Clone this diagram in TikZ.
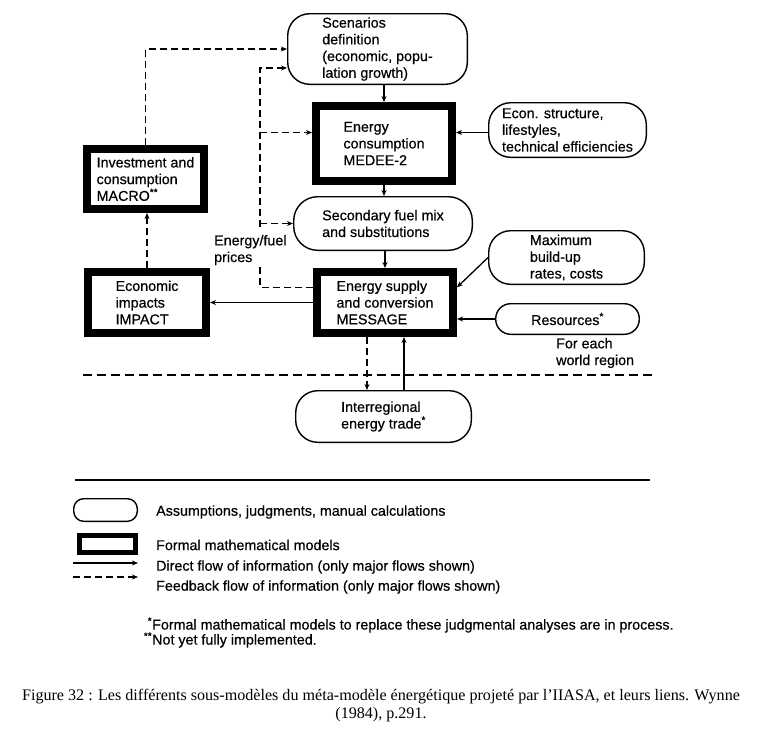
\documentclass[tikz,border=0pt]{standalone}
\usepackage{fontspec}
\setmainfont{Liberation Serif}
\newfontfamily\diagfont[FakeBold=0.5]{Liberation Sans}
\usetikzlibrary{arrows.meta,calc}
\newcommand\dfont{\diagfont\fontsize{14.3}{16.7}\selectfont}
\tikzset{
  ovbox/.style={draw, line width=1.4pt, rounded corners=#1, align=left, inner sep=0pt, font=\dfont},
  ovbox/.default=22pt,
  modbox/.style={draw, line width=8pt, align=left, inner sep=0pt, font=\dfont},
  flow/.style={line width=1.3pt, -{Stealth[length=6pt,width=5pt]}},
  fb/.style={flow, dash pattern=on 7pt off 4pt},
  dashl/.style={line width=1.3pt, dash pattern=on 7pt off 4pt},
  lbl/.style={font=\dfont, align=left, inner sep=0pt},
}
\begin{document}
\begin{tikzpicture}[x=1pt,y=-1pt]
\useasboundingbox (0,0) rectangle (762,729);
% boxes
\node[ovbox, minimum width=179.6pt, minimum height=70.6pt] (scen) at (377.5,49) {Scenarios\\definition\\(economic, popu-\\lation growth)};
\node[modbox, minimum width=136pt, minimum height=75pt] (medee) at (384,143.5) {Energy\\consumption\\MEDEE-2};
\node[modbox, minimum width=117pt, minimum height=60pt] (macro) at (145.5,179) {Investment and\\consumption\\MACRO\textsuperscript{**}};
\node[ovbox=24pt, minimum width=178.6pt, minimum height=53.6pt] (sec) at (383,223.5) {Secondary fuel mix\\and substitutions};
\node[modbox, minimum width=136pt, minimum height=61pt] (message) at (385,302.5) {Energy supply\\and conversion\\MESSAGE};
\node[modbox, minimum width=118pt, minimum height=61pt] (impact) at (147,302.5) {Economic\\impacts\\IMPACT};
\node[ovbox, minimum width=175.6pt, minimum height=51.6pt] (inter) at (383.5,416.5) {Interregional\\energy trade\textsuperscript{*}};
\node[ovbox, minimum width=157.6pt, minimum height=54.6pt] (econ) at (567.5,130) {Econ. structure,\\lifestyles,\\technical efficiencies};
\node[ovbox, minimum width=155.6pt, minimum height=53.6pt] (maxb) at (566.5,257.5) {Maximum\\build-up\\rates, costs};
\node[ovbox=15pt, minimum width=143.6pt, minimum height=30.6pt] (res) at (567.5,319) {Resources\textsuperscript{*}};
% labels
\node[lbl, anchor=west] (prices) at (214,250) {Energy/fuel\\prices};
\node[lbl, anchor=west] (region) at (556,353) {For each\\world region};
% solid connectors
\draw[flow] (medee.north |- scen.south) -- (medee.north);
\draw[flow] (medee.south) -- (medee.south |- sec.north);
\draw[flow] (message.north |- sec.south) -- (message.north);
\coordinate (mw) at ($(medee.west)+(0,-11)$);
\coordinate (me) at ($(medee.east)+(0,-11)$);
\draw[flow] (econ.west |- me) -- (me);
\coordinate (mmax) at ($(message.north east)!0.28!(message.south east)$);
\draw[flow] (maxb.west) -- (mmax);
\draw[flow] (res.west) -- (res.west -| message.east);
\draw[flow] (message.west) -- (message.west -| impact.east);
\coordinate (mtr) at ($(message.south)+(19,0)$);
\coordinate (mtl) at ($(message.south)+(-18,0)$);
\draw[flow] (mtr |- inter.north) -- (mtr);
\draw[fb] (mtl) -- (mtl |- inter.north);
% feedback connectors
\draw[fb] (impact.north) -- (impact.north |- macro.south);
\draw[fb] (macro.north) |- (scen.west);
\coordinate (mp) at ($(message.north west)!0.28!(message.south west)$);
\coordinate (pb) at (260,267);
\coordinate (pt) at (260,227);
\coordinate (sp) at ($(scen.west)+(0,19)$);
\draw[dashl] (mp) -| (pb);
\draw[fb] (pt) |- (sp);
\draw[fb] (pt |- mw) -- (mw);
\draw[fb] (pt |- sec.west) -- (sec.west);
% separators
\draw[line width=1.3pt, dash pattern=on 9pt off 5pt] (83,375) -- (653,375);
\draw[line width=1.8pt] (75,480) -- (650,480);
% legend
\node[ovbox=10pt, minimum width=63.6pt, minimum height=22.6pt] (lgov) at (105.5,510) {};
\node[modbox, line width=5pt, minimum width=56pt, minimum height=17pt] (lgmod) at (107.5,544) {};
\coordinate (ls1) at (73,563); \coordinate (le1) at (138,563);
\coordinate (ls2) at (73,577); \coordinate (le2) at (138,577);
\draw[flow] (ls1) -- (le1);
\draw[fb] (ls2) -- (le2);
\node[lbl, anchor=west] (t1) at (156,512) {Assumptions, judgments, manual calculations};
\node[lbl, anchor=west] (t2) at (156,545) {Formal mathematical models};
\node[lbl, anchor=west] (t3) at (156,567) {Direct flow of information (only major flows shown)};
\node[lbl, anchor=west] (t4) at (156,587) {Feedback flow of information (only major flows shown)};
\node[lbl, anchor=west] (f1) at (152,625) {\llap{\textsuperscript{*}}Formal mathematical models to replace these judgmental analyses are in process.};
\node[lbl, anchor=west] (f2) at (152,640) {\llap{\textsuperscript{**}}Not yet fully implemented.};
% caption
\node[font=\fontsize{16.1}{18}\selectfont, align=center, inner sep=0pt] (cap) at (381,706) {Figure 32 : Les différents sous-modèles du méta-modèle énergétique projeté par l’IIASA, et leurs liens. Wynne\\(1984), p.291.};
\end{tikzpicture}
\end{document}
